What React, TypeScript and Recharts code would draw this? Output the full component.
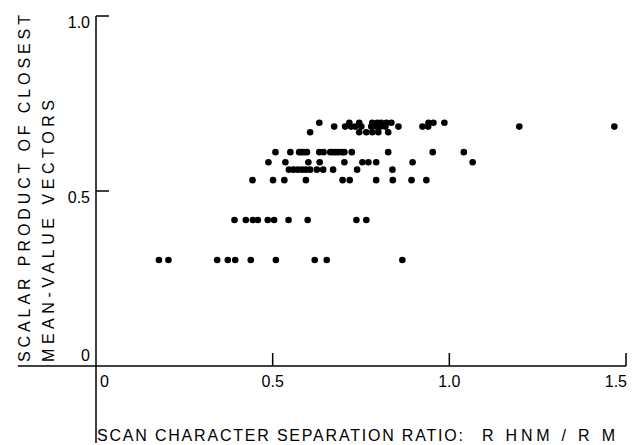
import { ScatterChart, Scatter, XAxis, YAxis, ReferenceLine, Label } from 'recharts';

// rows of dots, grouped by their scalar product level
const rowLevels = [0.303, 0.417, 0.531, 0.561, 0.582, 0.611, 0.668, 0.684, 0.695];
const xAt030 = [0.178, 0.205, 0.343, 0.373, 0.394, 0.438, 0.509, 0.619, 0.653, 0.867];
const xAt042 = [0.392, 0.424, 0.444, 0.458, 0.486, 0.504, 0.545, 0.599, 0.737, 0.765];
const xAt053 = [0.443, 0.501, 0.533, 0.594, 0.698, 0.718, 0.793, 0.84, 0.893, 0.935];
const xAt056 = [0.546, 0.559, 0.571, 0.583, 0.594, 0.606, 0.625, 0.643, 0.671, 0.739, 0.839];
const xAt058 = [0.488, 0.536, 0.601, 0.633, 0.703, 0.754, 0.771, 0.793, 0.896, 1.066];
const xAt061 = [0.508, 0.55, 0.575, 0.582, 0.589, 0.597, 0.632, 0.644, 0.663, 0.67, 0.678, 0.686, 0.696, 0.703, 0.724, 0.827, 0.953, 1.041];
const xAt067 = [0.606, 0.745, 0.765, 0.782, 0.799, 0.827];
const xAt068 = [0.674, 0.705, 0.722, 0.734, 0.751, 0.779, 0.793, 0.805, 0.819, 0.856, 0.924, 0.94, 1.198, 1.467];
const xAt070 = [0.632, 0.717, 0.745, 0.782, 0.796, 0.807, 0.822, 0.836, 0.941, 0.955, 0.986];
const rowXs = [xAt030, xAt042, xAt053, xAt056, xAt058, xAt061, xAt067, xAt068, xAt070];

const xTicks = [0, 0.5, 1, 1.5];
const xTickLabels = ['0', '0.5', '1.0', '1.5'];
const yTicks = [0, 0.5, 1];
const yTickLabels = ['0', '0.5', '1.0'];

const points = rowLevels.flatMap((y, i) => rowXs[i].map((x) => ({ x, y })));

const font = '"Liberation Sans", Arial, sans-serif';

// tick label plus a short inward tick mark
const XTick = (props: any) => {
  const { x, y, payload, index } = props;
  const v = payload.value;
  const anchor = v === 0 ? 'start' : v === 1.5 ? 'end' : 'middle';
  const tx = v === 0 ? x + 4 : v === 1.5 ? x + 1 : x;
  return (
    <g>
      {v !== 0 && <path d={`M${x},${y}V${y - 13}`} stroke="#000" strokeWidth={1.5} fill="none" />}
      <text x={tx} y={y + 15} dy="0.36em" textAnchor={anchor} fontSize={16} fontFamily={font} fill="#000">
        {xTickLabels[index] ?? String(v)}
      </text>
    </g>
  );
};

const YTick = (props: any) => {
  const { x, y, payload, index } = props;
  const v = payload.value;
  return (
    <g>
      {v !== 0 && <path d={`M${x},${y}H${x + 13}`} stroke="#000" strokeWidth={1.5} fill="none" />}
      <text x={x - 6} y={v === 0 ? y - 11 : y + 6} dy="0.36em" textAnchor="end" fontSize={16} fontFamily={font} fill="#000">
        {yTickLabels[index] ?? String(v)}
      </text>
    </g>
  );
};

const YTitle = (props: any) => {
  const { x, y, height } = props.viewBox;
  const sy = y + height - 4;
  return (
    <g fontFamily={font} fontSize={16} fill="#000">
      <text x={x - 6} y={sy} transform={`rotate(-90, ${x - 6}, ${sy})`} textLength={347} lengthAdjust="spacing">
        SCALAR PRODUCT OF CLOSEST
      </text>
      <text x={x + 18} y={sy} transform={`rotate(-90, ${x + 18}, ${sy})`} textLength={262} lengthAdjust="spacing">
        MEAN-VALUE VECTORS
      </text>
    </g>
  );
};

const XTitle = (props: any) => {
  const { x, y } = props.viewBox;
  return (
    <g fontFamily={font} fontSize={16} fill="#000">
      <text x={x + 1} y={y + 75} textLength={366} lengthAdjust="spacing">
        SCAN CHARACTER SEPARATION RATIO:
      </text>
      <text x={x + 386} y={y + 75} textLength={133} lengthAdjust="spacing">
        R HNM / R M
      </text>
    </g>
  );
};

const Dot = (props: any) => <circle cx={props.cx} cy={props.cy} r={3.3} fill="#000" />;

export default function App() {
  return (
    <div style={{ position: 'absolute', left: 0, top: 0, background: '#fff' }}>
      <ScatterChart width={643} height={445} margin={{ top: 16, right: 17, left: 36, bottom: 39 }}>
        <XAxis
          type="number"
          dataKey="x"
          domain={[0, 1.5]}
          ticks={xTicks}
          axisLine={false}
          tickLine={false}
          tickSize={0}
          tickMargin={0}
          height={40}
          tick={XTick}
          interval={0}
        >
          <Label content={XTitle} />
        </XAxis>
        <YAxis
          type="number"
          dataKey="y"
          domain={[0, 1]}
          ticks={yTicks}
          axisLine={false}
          tickLine={false}
          tickSize={0}
          tickMargin={0}
          width={60}
          tick={YTick}
          interval={0}
        >
          <Label content={YTitle} />
        </YAxis>
        <ReferenceLine
          segment={[{ x: -0.221, y: 0 }, { x: 1.5, y: 0 }]}
          ifOverflow="visible"
          stroke="#000"
          strokeWidth={1.5}
        />
        <ReferenceLine
          segment={[{ x: 0, y: 1 }, { x: 0, y: -0.22 }]}
          ifOverflow="visible"
          stroke="#000"
          strokeWidth={1.5}
        />
        <Scatter data={points} fill="#000" shape={Dot} isAnimationActive={false} />
      </ScatterChart>
    </div>
  );
}
